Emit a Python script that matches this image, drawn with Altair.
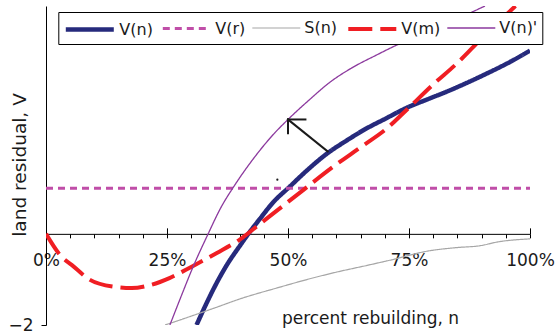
import altair as alt
import pandas as pd

# ---------------- data ----------------
series_names = ["V(n)", "V(r)", "S(n)", "V(m)", "V(n)'"]
series_colors = ["#262a7c", "#c04ea8", "#a6a6a6", "#f01e23", "#8c3a9e"]
series_widths = [4.5, 3.0, 1.2, 4.0, 1.3]
series_dashes = [[1, 0], [7, 5], [1, 0], [24, 8], [1, 0]]

vn_n = [31.1, 33, 35, 37.5, 40, 41.8, 44.2, 47, 50.2, 54, 58.3, 62, 66, 70,
        74.6, 79, 83, 87.5, 91.7, 96, 100]
vn_v = [-2.0, -1.56, -1.13, -0.66, -0.27, 0.0, 0.33, 0.7, 1.02, 1.4, 1.78, 2.04,
        2.3, 2.52, 2.77, 2.96, 3.13, 3.34, 3.55, 3.78, 4.02]

vr_n = [0, 100]
vr_v = [1.0, 1.0]

sn_n = [24.6, 29.6, 35, 40, 48.3, 54, 60, 66, 71, 79.3, 85, 89.7, 93.2, 100]
sn_v = [-2.0, -1.82, -1.62, -1.43, -1.17, -1.0, -0.84, -0.7, -0.58, -0.37,
        -0.3, -0.26, -0.18, -0.11]

vm_n = [0, 3.2, 5.3, 9.1, 13.9, 17.7, 21.3, 25.5, 30.1, 35.3, 40.1, 43.5,
        48.3, 53, 59.3, 65, 70.5, 74.6, 80, 85, 89, 93, 97]
vm_v = [0.0, -0.5, -0.68, -1.01, -1.16, -1.19, -1.13, -0.97, -0.72, -0.42,
        -0.12, 0.16, 0.56, 0.95, 1.47, 1.9, 2.32, 2.73, 3.28, 3.75, 4.18, 4.6, 5.0]

vnp_n = [25.6, 28, 30.4, 33.5, 36, 39, 42.5, 47.3, 50.1, 54.5, 58.7, 63, 68.4,
         73, 78.7, 85, 90.7]
vnp_v = [-2.0, -1.35, -0.72, 0.0, 0.55, 1.07, 1.6, 2.22, 2.52, 2.95, 3.33, 3.63,
         3.93, 4.17, 4.43, 4.72, 5.0]

# arrow annotation (from V(n) up to V(n)')
arrow_n = [58.2, 50.0, 50.0]
arrow_v = [1.81, 2.51, 2.51]
arrow_n2 = [50.0, 53.6, 50.0]
arrow_v2 = [2.51, 2.51, 2.21]

dot_n = [47.8]
dot_v = [1.19]

x_ticks_minor = list(range(0, 101, 5))
x_ticks_major = [0, 25, 50, 75, 100]
y_domain = [-2, 5]
x_domain = [0, 100]

# ---------------- build table ----------------
rows = []
for name, ns, vs in [("V(n)", vn_n, vn_v), ("V(r)", vr_n, vr_v), ("S(n)", sn_n, sn_v),
                     ("V(m)", vm_n, vm_v), ("V(n)'", vnp_n, vnp_v)]:
    for a, b in zip(ns, vs):
        rows.append({"series": name, "n": a, "V": b})
df = pd.DataFrame(rows)
arrow_df = pd.DataFrame({"n": arrow_n, "V": arrow_v, "n2": arrow_n2, "V2": arrow_v2})
dot_df = pd.DataFrame({"n": dot_n, "V": dot_v})

W, H = 484, 319
zero_offset = -H * (0 - y_domain[0]) / (y_domain[1] - y_domain[0])
top_offset = -H * (y_domain[1] - 0) / (y_domain[1] - y_domain[0])

FONT = "DejaVu Sans"
TXT = "#1a1a1a"

xs = alt.Scale(domain=x_domain, nice=False, zero=False)
ys = alt.Scale(domain=y_domain, nice=False, zero=False)

lines = alt.Chart(df).mark_line(clip=True, interpolate="monotone").encode(
    x=alt.X("n:Q", scale=xs, axis=alt.Axis(
        orient="bottom", offset=zero_offset, values=x_ticks_minor, tickSize=4,
        labelExpr="datum.value % 25 === 0 ? datum.value + '%' : ''",
        labelFont=FONT, labelFontSize=17, labelColor=TXT, labelPadding=15,
        labelFlush=False, labelOverlap=False,
        domainColor="black", tickColor="black", domainWidth=1, tickWidth=1,
        grid=False, title="percent rebuilding, n", titleFont=FONT,
        titleFontSize=17, titleFontWeight="normal", titleColor=TXT,
        titleX=324, titleY=90, titleAlign="center", titleBaseline="alphabetic")),
    y=alt.Y("V:Q", scale=ys, axis=alt.Axis(
        values=[-2], tickSize=5, labelFont=FONT, labelFontSize=17, labelColor=TXT,
        labelPadding=8, domainColor="black", tickColor="black", grid=False,
        title="land residual, V", titleFont=FONT, titleFontSize=18.5,
        titleFontWeight="normal", titleColor=TXT, titleX=-21, titleY=158.5,
        titleAlign="center", titleBaseline="alphabetic", titleAngle=270)),
    color=alt.Color("series:N", scale=alt.Scale(domain=series_names, range=series_colors),
                    legend=alt.Legend(title=None)),
    strokeDash=alt.StrokeDash("series:N", scale=alt.Scale(domain=series_names, range=series_dashes),
                              legend=alt.Legend(title=None)),
    strokeWidth=alt.StrokeWidth("series:N", scale=alt.Scale(type="ordinal", domain=series_names,
                                                            range=series_widths),
                                legend=alt.Legend(title=None)),
    detail="series:N",
)

arrow = alt.Chart(arrow_df).mark_rule(color="#1a1a1a", strokeWidth=2, strokeCap="square").encode(
    x=alt.X("n:Q", scale=xs, axis=None),
    y=alt.Y("V:Q", scale=ys, axis=None),
    x2="n2:Q",
    y2="V2:Q",
)

dot = alt.Chart(dot_df).mark_circle(color="#1a1a1a", size=5, opacity=1).encode(
    x=alt.X("n:Q", scale=xs, axis=alt.Axis(
        orient="top", offset=top_offset, values=x_ticks_major, tickSize=6,
        labels=False, domain=False, tickColor="black", grid=False, title=None)),
    y=alt.Y("V:Q", scale=ys, axis=None),
)

chart = alt.layer(lines, arrow, dot).resolve_axis(x="independent", y="independent").properties(
    width=W, height=H, autosize="none",
    padding={"left": 46, "top": 6, "right": 27, "bottom": 11},
).configure_view(stroke=None).configure_legend(
    orient="none", legendX=12.3, legendY=6, direction="horizontal",
    symbolType="M-1,0H3.8", symbolSize=400, labelFont=FONT, labelFontSize=16,
    labelColor=TXT, labelOffset=31, columnPadding=3, padding=5, gridAlign="none",
    strokeColor="black", fillColor="white", titlePadding=0,
)

chart.save("out.html", embed_options={"renderer": "svg", "actions": False})
